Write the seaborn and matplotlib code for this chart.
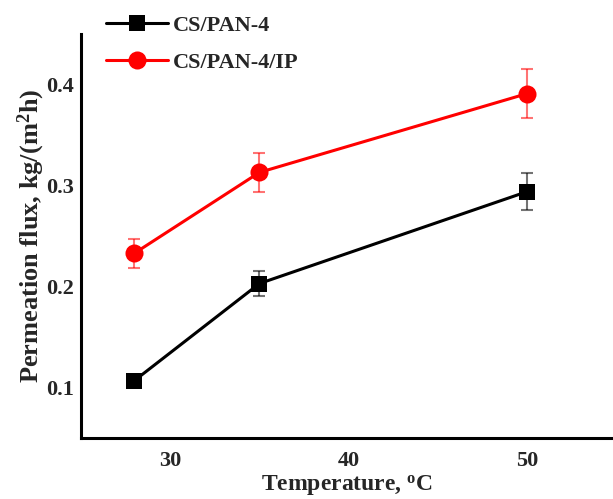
import numpy as np
import pandas as pd
import matplotlib.pyplot as plt
import seaborn as sns

# data
temps = [28, 35, 50]
flux_pan4 = [0.107, 0.203, 0.294]
err_pan4 = [0.0, 0.0125, 0.018]
flux_pan4_ip = [0.233, 0.313, 0.391]
err_pan4_ip = [0.0145, 0.019, 0.024]
labels = ['CS/PAN-4', 'CS/PAN-4/IP']
colors = ['black', 'red']
markers = ['s', 'o']

df = pd.DataFrame({
    'temp': temps * 2,
    'flux': flux_pan4 + flux_pan4_ip,
    'err': err_pan4 + err_pan4_ip,
    'sample': [labels[0]] * 3 + [labels[1]] * 3,
})

sns.set_style('white')
plt.rcParams['font.family'] = ['Liberation Serif', 'DejaVu Serif']
plt.rcParams['font.weight'] = 'bold'
plt.rcParams['mathtext.fontset'] = 'custom'
plt.rcParams['mathtext.rm'] = 'Liberation Serif:bold'
plt.rcParams['mathtext.bf'] = 'Liberation Serif:bold'

fig = plt.figure(figsize=(6.13, 4.99), dpi=100)
ax = fig.add_axes([0.132, 0.122, 0.868, 0.81])

for lab, col, mk, ms in zip(labels, colors, markers, [11, 13]):
    sub = df[df['sample'] == lab]
    ax.errorbar(sub['temp'], sub['flux'], yerr=sub['err'], fmt='none',
                ecolor=col, alpha=0.55, elinewidth=1.5, capsize=4, capthick=1.5, zorder=2)
    sns.lineplot(data=sub, x='temp', y='flux', ax=ax, color=col, marker=mk,
                 markersize=ms, markeredgewidth=0, linewidth=2.2, label=lab, zorder=3)

ax.set_xlim(25, 54.8)
ax.set_ylim(0.05, 0.45)
ax.set_xticks([30, 40, 50])
ax.set_yticks([0.1, 0.2, 0.3, 0.4])
ax.tick_params(length=0, labelsize=16)
ax.tick_params(axis='x', pad=9)
ax.tick_params(axis='y', pad=5)
for t in ax.get_xticklabels() + ax.get_yticklabels():
    t.set_fontweight('bold')

for s in ['top', 'right']:
    ax.spines[s].set_visible(False)
for s in ['left', 'bottom']:
    ax.spines[s].set_linewidth(2.2)
    ax.spines[s].set_color('black')

ax.set_xlabel('Temperature, $\\mathregular{^{o}}$C', fontsize=17, fontweight='bold', labelpad=2)
ax.set_ylabel('Permeation flux, kg/(m$\\mathregular{^{2}}$h)', fontsize=19, fontweight='bold', labelpad=-1)

ax.legend(loc='upper left', bbox_to_anchor=(0.14, 1.01), bbox_transform=fig.transFigure,
          frameon=False, handlelength=2.8, labelspacing=0.75,
          handletextpad=0.2, prop={'weight': 'bold', 'size': 16})

fig.savefig('out.png', dpi=100)
